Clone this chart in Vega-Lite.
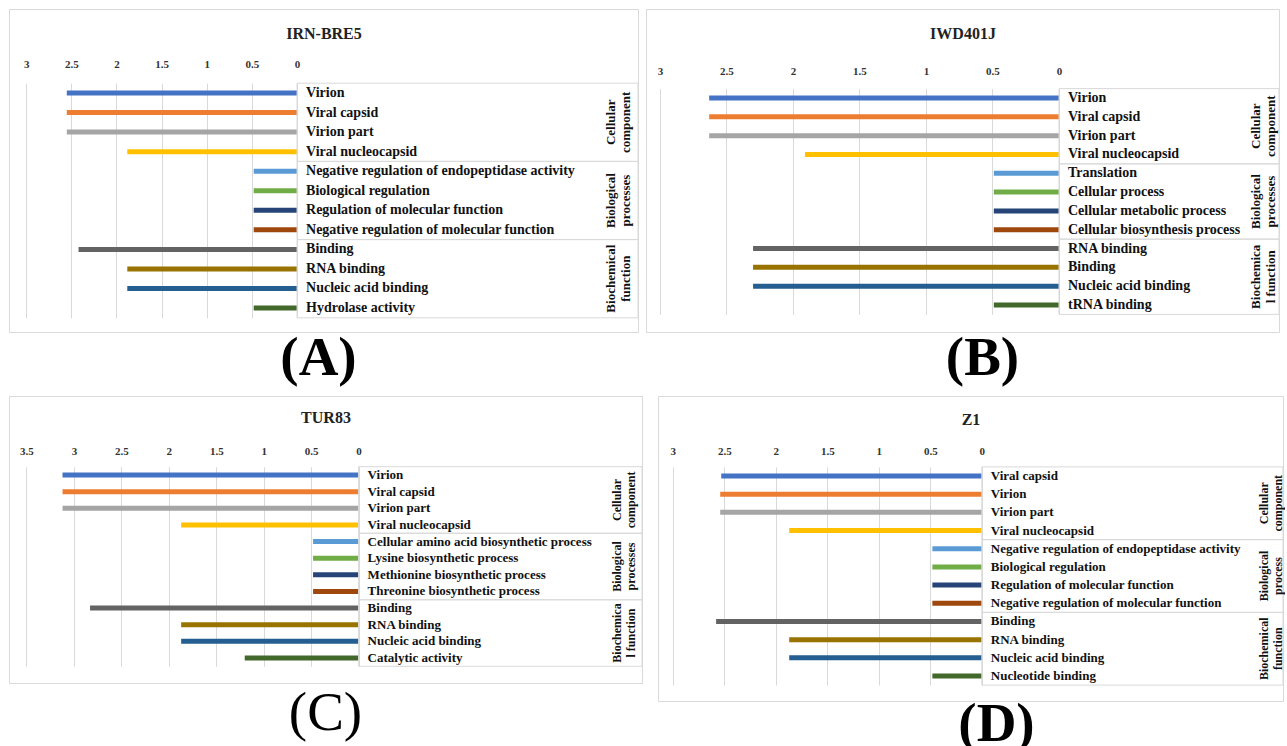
{
  "$schema": "https://vega.github.io/schema/vega-lite/v6.json",
  "background": "white",
  "padding": {"left": 8, "top": 8, "right": 0, "bottom": 0},
  "config": {"font": "Liberation Serif", "view": {"stroke": "#d9d9d9"}},
  "datasets": {
    "A": [
      {"term": "Virion", "value": 2.55, "group": "Cellular\ncomponent"},
      {"term": "Viral capsid", "value": 2.55, "group": "Cellular\ncomponent"},
      {"term": "Virion part", "value": 2.55, "group": "Cellular\ncomponent"},
      {"term": "Viral nucleocapsid", "value": 1.88, "group": "Cellular\ncomponent"},
      {"term": "Negative regulation of endopeptidase activity", "value": 0.48, "group": "Biological\nprocesses"},
      {"term": "Biological regulation", "value": 0.48, "group": "Biological\nprocesses"},
      {"term": "Regulation of molecular function", "value": 0.48, "group": "Biological\nprocesses"},
      {"term": "Negative regulation of molecular function", "value": 0.48, "group": "Biological\nprocesses"},
      {"term": "Binding", "value": 2.42, "group": "Biochemical\nfunction"},
      {"term": "RNA binding", "value": 1.88, "group": "Biochemical\nfunction"},
      {"term": "Nucleic acid binding", "value": 1.88, "group": "Biochemical\nfunction"},
      {"term": "Hydrolase activity", "value": 0.48, "group": "Biochemical\nfunction"}
    ],
    "B": [
      {"term": "Virion", "value": 2.63, "group": "Cellular\ncomponent"},
      {"term": "Viral capsid", "value": 2.63, "group": "Cellular\ncomponent"},
      {"term": "Virion part", "value": 2.63, "group": "Cellular\ncomponent"},
      {"term": "Viral nucleocapsid", "value": 1.91, "group": "Cellular\ncomponent"},
      {"term": "Translation", "value": 0.49, "group": "Biological\nprocesses"},
      {"term": "Cellular process", "value": 0.49, "group": "Biological\nprocesses"},
      {"term": "Cellular metabolic process", "value": 0.49, "group": "Biological\nprocesses"},
      {"term": "Cellular biosynthesis process", "value": 0.49, "group": "Biological\nprocesses"},
      {"term": "RNA binding", "value": 2.3, "group": "Biochemica\nl function"},
      {"term": "Binding", "value": 2.3, "group": "Biochemica\nl function"},
      {"term": "Nucleic acid binding", "value": 2.3, "group": "Biochemica\nl function"},
      {"term": "tRNA binding", "value": 0.49, "group": "Biochemica\nl function"}
    ],
    "C": [
      {"term": "Virion", "value": 3.12, "group": "Cellular\ncomponent"},
      {"term": "Viral capsid", "value": 3.12, "group": "Cellular\ncomponent"},
      {"term": "Virion part", "value": 3.12, "group": "Cellular\ncomponent"},
      {"term": "Viral nucleocapsid", "value": 1.87, "group": "Cellular\ncomponent"},
      {"term": "Cellular amino acid biosynthetic process", "value": 0.48, "group": "Biological\nprocesses"},
      {"term": "Lysine biosynthetic process", "value": 0.48, "group": "Biological\nprocesses"},
      {"term": "Methionine biosynthetic process", "value": 0.48, "group": "Biological\nprocesses"},
      {"term": "Threonine biosynthetic process", "value": 0.48, "group": "Biological\nprocesses"},
      {"term": "Binding", "value": 2.83, "group": "Biochemica\nl function"},
      {"term": "RNA binding", "value": 1.87, "group": "Biochemica\nl function"},
      {"term": "Nucleic acid binding", "value": 1.87, "group": "Biochemica\nl function"},
      {"term": "Catalytic activity", "value": 1.2, "group": "Biochemica\nl function"}
    ],
    "D": [
      {"term": "Viral capsid", "value": 2.53, "group": "Cellular\ncomponent"},
      {"term": "Virion", "value": 2.54, "group": "Cellular\ncomponent"},
      {"term": "Virion part", "value": 2.54, "group": "Cellular\ncomponent"},
      {"term": "Viral nucleocapsid", "value": 1.87, "group": "Cellular\ncomponent"},
      {"term": "Negative regulation of endopeptidase activity", "value": 0.48, "group": "Biological\nprocess"},
      {"term": "Biological regulation", "value": 0.48, "group": "Biological\nprocess"},
      {"term": "Regulation of molecular function", "value": 0.48, "group": "Biological\nprocess"},
      {"term": "Negative regulation of molecular function", "value": 0.48, "group": "Biological\nprocess"},
      {"term": "Binding", "value": 2.58, "group": "Biochemical\nfunction"},
      {"term": "RNA binding", "value": 1.87, "group": "Biochemical\nfunction"},
      {"term": "Nucleic acid binding", "value": 1.87, "group": "Biochemical\nfunction"},
      {"term": "Nucleotide binding", "value": 0.48, "group": "Biochemical\nfunction"}
    ]
  },
  "resolve": {"scale": {"color": "independent", "x": "independent", "y": "independent"}},
  "spacing": 8,
  "vconcat": [
    {
      "spacing": 6,
      "resolve": {"scale": {"color": "independent", "x": "independent", "y": "independent"}},
      "hconcat": [
        {
          "width": 629, "height": 323,
          "title": {"text": "(A)", "orient": "bottom", "fontSize": 55, "font": "Liberation Serif", "fontWeight": "bold", "offset": 0, "anchor": "middle", "dx": -5, "color": "#000"},
          "data": {"name": "A"},
          "resolve": {"scale": {"y": "independent"}},
          "layer": [
            {
              "mark": {"type": "bar", "size": 5},
              "encoding": {
                "y": {"field": "term", "type": "nominal", "sort": null, "axis": null, "scale": {"range": [74.2, 308.8], "paddingInner": 0, "paddingOuter": 0}},
                "x": {"field": "value", "type": "quantitative", "scale": {"domain": [-3.776, 3.19], "reverse": true, "zero": false, "nice": false},
                  "axis": {"orient": "top", "offset": -62, "values": [0, 0.5, 1, 1.5, 2, 2.5, 3], "format": "~g", "ticks": false, "domain": false, "grid": true, "gridColor": "#d9d9d9", "labelFont": "Liberation Serif", "labelFontWeight": "bold", "labelFontSize": 11, "labelColor": "#333", "labelPadding": 2, "labelFlush": false, "labelOverlap": false, "title": "IRN-BRE5", "titleFont": "Liberation Serif", "titleFontSize": 16, "titleFontWeight": "bold", "titleColor": "#222", "titlePadding": 17}},
                "x2": {"datum": 0},
                "color": {"field": "term", "type": "nominal", "sort": null, "legend": null, "scale": {"range": ["#4472C4","#ED7D31","#A5A5A5","#FFC000","#5B9BD5","#70AD47","#264478","#9E480E","#636363","#997300","#255E91","#43682B"]}}
              }
            },
            {
              "mark": {"type": "text", "align": "left", "baseline": "middle", "dx": 9, "font": "Liberation Serif", "fontWeight": "bold", "fontSize": 14, "color": "#111"},
              "encoding": {
                "y": {"field": "term", "type": "nominal", "sort": null, "axis": null, "scale": {"range": [74.2, 308.8], "paddingInner": 0, "paddingOuter": 0}},
                "x": {"datum": 0, "type": "quantitative", "scale": {"domain": [-3.776, 3.19], "reverse": true, "zero": false, "nice": false}},
                "text": {"field": "term"}
              }
            },
            {
              "transform": [{"aggregate": [{"op": "count", "as": "n"}], "groupby": ["group"]}],
              "mark": {"type": "rect", "fillOpacity": 0, "stroke": "#d9d9d9", "strokeWidth": 1},
              "encoding": {
                "y": {"field": "group", "type": "nominal", "sort": null, "axis": null, "scale": {"range": [74.2, 308.8], "paddingInner": 0, "paddingOuter": 0}},
                "x": {"datum": 0, "type": "quantitative", "scale": {"domain": [-3.776, 3.19], "reverse": true, "zero": false, "nice": false}},
                "x2": {"datum": -3.776}
              }
            },
            {
              "transform": [{"aggregate": [{"op": "count", "as": "n"}], "groupby": ["group"]}],
              "mark": {"type": "text", "angle": 270, "align": "center", "baseline": "middle", "lineBreak": "\n", "font": "Liberation Serif", "fontWeight": "bold", "fontSize": 13, "color": "#111"},
              "encoding": {
                "y": {"field": "group", "type": "nominal", "sort": null, "axis": null, "scale": {"range": [74.2, 308.8], "paddingInner": 0, "paddingOuter": 0}},
                "x": {"datum": -3.477, "type": "quantitative", "scale": {"domain": [-3.776, 3.19], "reverse": true, "zero": false, "nice": false}},
                "text": {"field": "group"}
              }
            }
          ]
        },
        {
          "width": 633, "height": 323,
          "title": {"text": "(B)", "orient": "bottom", "fontSize": 55, "font": "Liberation Serif", "fontWeight": "bold", "offset": 0, "anchor": "middle", "dx": 20, "color": "#000"},
          "data": {"name": "B"},
          "resolve": {"scale": {"y": "independent"}},
          "layer": [
            {
              "mark": {"type": "bar", "size": 5},
              "encoding": {
                "y": {"field": "term", "type": "nominal", "sort": null, "axis": null, "scale": {"range": [79.6, 305.4], "paddingInner": 0, "paddingOuter": 0}},
                "x": {"field": "value", "type": "quantitative", "scale": {"domain": [-1.654, 3.105], "reverse": true, "zero": false, "nice": false},
                  "axis": {"orient": "top", "offset": -69, "values": [0, 0.5, 1, 1.5, 2, 2.5, 3], "format": "~g", "ticks": false, "domain": false, "grid": true, "gridColor": "#d9d9d9", "labelFont": "Liberation Serif", "labelFontWeight": "bold", "labelFontSize": 11, "labelColor": "#333", "labelPadding": 2, "labelFlush": false, "labelOverlap": false, "title": "IWD401J", "titleFont": "Liberation Serif", "titleFontSize": 16, "titleFontWeight": "bold", "titleColor": "#222", "titlePadding": 24}},
                "x2": {"datum": 0},
                "color": {"field": "term", "type": "nominal", "sort": null, "legend": null, "scale": {"range": ["#4472C4","#ED7D31","#A5A5A5","#FFC000","#5B9BD5","#70AD47","#264478","#9E480E","#636363","#997300","#255E91","#43682B"]}}
              }
            },
            {
              "mark": {"type": "text", "align": "left", "baseline": "middle", "dx": 9, "font": "Liberation Serif", "fontWeight": "bold", "fontSize": 14, "color": "#111"},
              "encoding": {
                "y": {"field": "term", "type": "nominal", "sort": null, "axis": null, "scale": {"range": [79.6, 305.4], "paddingInner": 0, "paddingOuter": 0}},
                "x": {"datum": 0, "type": "quantitative", "scale": {"domain": [-1.654, 3.105], "reverse": true, "zero": false, "nice": false}},
                "text": {"field": "term"}
              }
            },
            {
              "transform": [{"aggregate": [{"op": "count", "as": "n"}], "groupby": ["group"]}],
              "mark": {"type": "rect", "fillOpacity": 0, "stroke": "#d9d9d9", "strokeWidth": 1},
              "encoding": {
                "y": {"field": "group", "type": "nominal", "sort": null, "axis": null, "scale": {"range": [79.6, 305.4], "paddingInner": 0, "paddingOuter": 0}},
                "x": {"datum": 0, "type": "quantitative", "scale": {"domain": [-1.654, 3.105], "reverse": true, "zero": false, "nice": false}},
                "x2": {"datum": -1.654}
              }
            },
            {
              "transform": [{"aggregate": [{"op": "count", "as": "n"}], "groupby": ["group"]}],
              "mark": {"type": "text", "angle": 270, "align": "center", "baseline": "middle", "lineBreak": "\n", "font": "Liberation Serif", "fontWeight": "bold", "fontSize": 13, "color": "#111"},
              "encoding": {
                "y": {"field": "group", "type": "nominal", "sort": null, "axis": null, "scale": {"range": [79.6, 305.4], "paddingInner": 0, "paddingOuter": 0}},
                "x": {"datum": -1.481, "type": "quantitative", "scale": {"domain": [-1.654, 3.105], "reverse": true, "zero": false, "nice": false}},
                "text": {"field": "group"}
              }
            }
          ]
        }
      ]
    },
    {
      "spacing": 14,
      "resolve": {"scale": {"color": "independent", "x": "independent", "y": "independent"}},
      "hconcat": [
        {
          "width": 633, "height": 287,
          "title": {"text": "(C)", "orient": "bottom", "fontSize": 55, "font": "Liberation Serif", "fontWeight": "normal", "offset": 4, "anchor": "middle", "dx": 0, "color": "#000"},
          "data": {"name": "C"},
          "resolve": {"scale": {"y": "independent"}},
          "layer": [
            {
              "mark": {"type": "bar", "size": 5},
              "encoding": {
                "y": {"field": "term", "type": "nominal", "sort": null, "axis": null, "scale": {"range": [70.7, 270.3], "paddingInner": 0, "paddingOuter": 0}},
                "x": {"field": "value", "type": "quantitative", "scale": {"domain": [-2.986, 3.684], "reverse": true, "zero": false, "nice": false},
                  "axis": {"orient": "top", "offset": -62, "values": [0, 0.5, 1, 1.5, 2, 2.5, 3, 3.5], "format": "~g", "ticks": false, "domain": false, "grid": true, "gridColor": "#d9d9d9", "labelFont": "Liberation Serif", "labelFontWeight": "bold", "labelFontSize": 11, "labelColor": "#333", "labelPadding": 2, "labelFlush": false, "labelOverlap": false, "title": "TUR83", "titleFont": "Liberation Serif", "titleFontSize": 16, "titleFontWeight": "bold", "titleColor": "#222", "titlePadding": 20}},
                "x2": {"datum": 0},
                "color": {"field": "term", "type": "nominal", "sort": null, "legend": null, "scale": {"range": ["#4472C4","#ED7D31","#A5A5A5","#FFC000","#5B9BD5","#70AD47","#264478","#9E480E","#636363","#997300","#255E91","#43682B"]}}
              }
            },
            {
              "mark": {"type": "text", "align": "left", "baseline": "middle", "dx": 9, "font": "Liberation Serif", "fontWeight": "bold", "fontSize": 13, "color": "#111"},
              "encoding": {
                "y": {"field": "term", "type": "nominal", "sort": null, "axis": null, "scale": {"range": [70.7, 270.3], "paddingInner": 0, "paddingOuter": 0}},
                "x": {"datum": 0, "type": "quantitative", "scale": {"domain": [-2.986, 3.684], "reverse": true, "zero": false, "nice": false}},
                "text": {"field": "term"}
              }
            },
            {
              "transform": [{"aggregate": [{"op": "count", "as": "n"}], "groupby": ["group"]}],
              "mark": {"type": "rect", "fillOpacity": 0, "stroke": "#d9d9d9", "strokeWidth": 1},
              "encoding": {
                "y": {"field": "group", "type": "nominal", "sort": null, "axis": null, "scale": {"range": [70.7, 270.3], "paddingInner": 0, "paddingOuter": 0}},
                "x": {"datum": 0, "type": "quantitative", "scale": {"domain": [-2.986, 3.684], "reverse": true, "zero": false, "nice": false}},
                "x2": {"datum": -2.986}
              }
            },
            {
              "transform": [{"aggregate": [{"op": "count", "as": "n"}], "groupby": ["group"]}],
              "mark": {"type": "text", "angle": 270, "align": "center", "baseline": "middle", "lineBreak": "\n", "font": "Liberation Serif", "fontWeight": "bold", "fontSize": 12, "color": "#111"},
              "encoding": {
                "y": {"field": "group", "type": "nominal", "sort": null, "axis": null, "scale": {"range": [70.7, 270.3], "paddingInner": 0, "paddingOuter": 0}},
                "x": {"datum": -2.723, "type": "quantitative", "scale": {"domain": [-2.986, 3.684], "reverse": true, "zero": false, "nice": false}},
                "text": {"field": "group"}
              }
            }
          ]
        },
        {
          "width": 625, "height": 305,
          "title": {"text": "(D)", "orient": "bottom", "fontSize": 55, "font": "Liberation Serif", "fontWeight": "bold", "offset": -3, "anchor": "middle", "dx": 26, "color": "#000"},
          "data": {"name": "D"},
          "resolve": {"scale": {"y": "independent"}},
          "layer": [
            {
              "mark": {"type": "bar", "size": 5},
              "encoding": {
                "y": {"field": "term", "type": "nominal", "sort": null, "axis": null, "scale": {"range": [70.9, 289.1], "paddingInner": 0, "paddingOuter": 0}},
                "x": {"field": "value", "type": "quantitative", "scale": {"domain": [-2.924, 3.144], "reverse": true, "zero": false, "nice": false},
                  "axis": {"orient": "top", "offset": -62, "values": [0, 0.5, 1, 1.5, 2, 2.5, 3], "format": "~g", "ticks": false, "domain": false, "grid": true, "gridColor": "#d9d9d9", "labelFont": "Liberation Serif", "labelFontWeight": "bold", "labelFontSize": 11, "labelColor": "#333", "labelPadding": 2, "labelFlush": false, "labelOverlap": false, "title": "Z1", "titleFont": "Liberation Serif", "titleFontSize": 16, "titleFontWeight": "bold", "titleColor": "#222", "titlePadding": 18}},
                "x2": {"datum": 0},
                "color": {"field": "term", "type": "nominal", "sort": null, "legend": null, "scale": {"range": ["#4472C4","#ED7D31","#A5A5A5","#FFC000","#5B9BD5","#70AD47","#264478","#9E480E","#636363","#997300","#255E91","#43682B"]}}
              }
            },
            {
              "mark": {"type": "text", "align": "left", "baseline": "middle", "dx": 9, "font": "Liberation Serif", "fontWeight": "bold", "fontSize": 13, "color": "#111"},
              "encoding": {
                "y": {"field": "term", "type": "nominal", "sort": null, "axis": null, "scale": {"range": [70.9, 289.1], "paddingInner": 0, "paddingOuter": 0}},
                "x": {"datum": 0, "type": "quantitative", "scale": {"domain": [-2.924, 3.144], "reverse": true, "zero": false, "nice": false}},
                "text": {"field": "term"}
              }
            },
            {
              "transform": [{"aggregate": [{"op": "count", "as": "n"}], "groupby": ["group"]}],
              "mark": {"type": "rect", "fillOpacity": 0, "stroke": "#d9d9d9", "strokeWidth": 1},
              "encoding": {
                "y": {"field": "group", "type": "nominal", "sort": null, "axis": null, "scale": {"range": [70.9, 289.1], "paddingInner": 0, "paddingOuter": 0}},
                "x": {"datum": 0, "type": "quantitative", "scale": {"domain": [-2.924, 3.144], "reverse": true, "zero": false, "nice": false}},
                "x2": {"datum": -2.924}
              }
            },
            {
              "transform": [{"aggregate": [{"op": "count", "as": "n"}], "groupby": ["group"]}],
              "mark": {"type": "text", "angle": 270, "align": "center", "baseline": "middle", "lineBreak": "\n", "font": "Liberation Serif", "fontWeight": "bold", "fontSize": 12, "color": "#111"},
              "encoding": {
                "y": {"field": "group", "type": "nominal", "sort": null, "axis": null, "scale": {"range": [70.9, 289.1], "paddingInner": 0, "paddingOuter": 0}},
                "x": {"datum": -2.74, "type": "quantitative", "scale": {"domain": [-2.924, 3.144], "reverse": true, "zero": false, "nice": false}},
                "text": {"field": "group"}
              }
            }
          ]
        }
      ]
    }
  ]
}
